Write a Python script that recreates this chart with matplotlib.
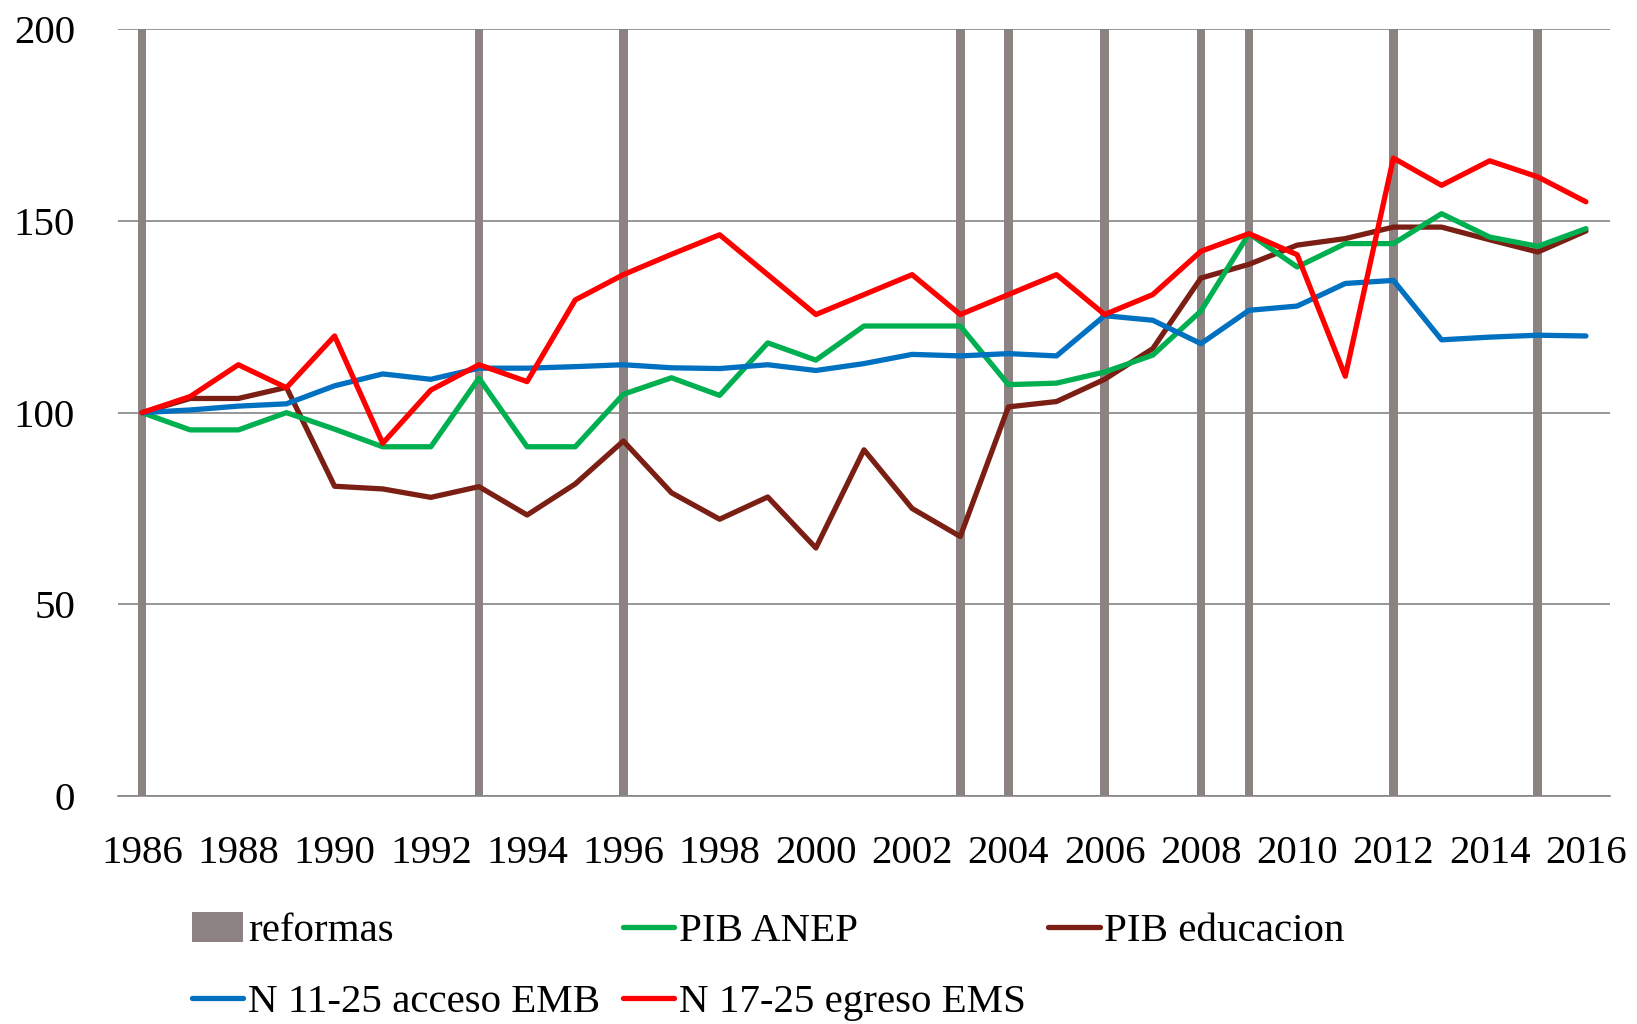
import matplotlib
matplotlib.use("Agg")
import matplotlib.pyplot as plt
from matplotlib.patches import Patch
from matplotlib.lines import Line2D

years = list(range(1986, 2017))
reform_years = [1986, 1993, 1996, 2003, 2004, 2006, 2008, 2009, 2012, 2015]
reform_height = 200

pib_anep = [100, 95.5, 95.5, 100, 95.7, 91.1, 91.1, 109.0, 91.1, 91.1,
            104.8, 109.1, 104.5, 118.2, 113.7, 122.6, 122.6, 122.6, 107.3, 107.7,
            110.6, 115.0, 126.5, 146.7, 138.0, 144.1, 144.1, 151.9, 145.8, 143.4, 148.0]
pib_educ = [100, 103.7, 103.7, 106.6, 80.8, 80.1, 77.9, 80.7, 73.3, 81.4,
            92.6, 79.1, 72.2, 78.0, 64.7, 90.3, 75.0, 67.7, 101.5, 102.9,
            108.7, 116.7, 135.1, 138.7, 143.7, 145.4, 148.4, 148.4, 145.1, 141.9, 147.4]
n_acceso = [100, 100.7, 101.7, 102.3, 107.0, 110.1, 108.7, 111.6, 111.6, 112.0,
            112.5, 111.7, 111.5, 112.5, 111.0, 112.8, 115.2, 114.8, 115.4, 114.8,
            125.3, 124.1, 118.0, 126.7, 127.8, 133.7, 134.5, 119.0, 119.7, 120.2, 120.0]
n_egreso = [100, 104.2, 112.5, 106.5, 120.0, 92.0, 105.9, 112.5, 108.1, 129.4,
            136.0, 141.3, 146.4, 136.0, 125.6, 130.8, 136.0, 125.6, 130.8, 136.0,
            125.6, 130.8, 142.1, 146.7, 141.2, 109.5, 166.4, 159.3, 165.7, 161.5, 155.0]
y_ticks = [0, 50, 100, 150, 200]

c_bar = "#8C8282"
c_green = "#00B050"
c_brown = "#7B1F14"
c_blue = "#0070C0"
c_red = "#FF0000"
c_grid = "#858585"

plt.rcParams['font.family'] = ['Liberation Serif', 'DejaVu Serif']
FS = 29.5

fig = plt.figure(figsize=(16.37, 10.24), dpi=100)
ax = fig.add_axes([118/1637, 1 - 796/1024, (1610 - 118)/1637, (796 - 29.3)/1024])

idx = list(range(len(years)))
bar_vals = [reform_height if y in reform_years else 0 for y in years]
ax.bar(idx, bar_vals, width=0.18, color=c_bar, zorder=2)

lw = 3.8
kw = dict(lw=lw, solid_capstyle='round', solid_joinstyle='round', zorder=3)
ax.plot(idx, pib_educ, color=c_brown, **kw)
ax.plot(idx, pib_anep, color=c_green, **kw)
ax.plot(idx, n_acceso, color=c_blue, **kw)
ax.plot(idx, n_egreso, color=c_red, **kw)

ax.set_xlim(-0.5, len(years) - 0.5)
ax.set_ylim(0, 200)
ax.set_yticks(y_ticks)
ax.set_yticklabels([str(v) for v in y_ticks])
ax.set_xticks(idx[::2])
ax.set_xticklabels([str(y) for y in years[::2]])
ax.tick_params(axis='both', length=0, labelsize=FS)
ax.tick_params(axis='y', pad=31)
ax.tick_params(axis='x', pad=28)
ax.yaxis.grid(True, color=c_grid, lw=1.2, zorder=0)
ax.set_axisbelow(True)
for s in ['left', 'right', 'top']:
    ax.spines[s].set_visible(False)
ax.spines['bottom'].set_color(c_grid)
ax.spines['bottom'].set_linewidth(1.2)

handles = [
    Patch(facecolor=c_bar, edgecolor='none'),
    Line2D([], [], color=c_blue, lw=lw, solid_capstyle='round'),
    Line2D([], [], color=c_green, lw=lw, solid_capstyle='round'),
    Line2D([], [], color=c_red, lw=lw, solid_capstyle='round'),
    Line2D([], [], color=c_brown, lw=lw, solid_capstyle='round'),
]
labels = ["reformas", "N 11-25 acceso EMB", "PIB ANEP", "N 17-25 egreso EMS", "PIB educacion"]
fig.legend(handles, labels, ncol=3, loc='upper left', bbox_to_anchor=(192/1637, 1 - 912/1024),
           frameon=False, fontsize=FS, handlelength=1.25, handletextpad=0.12,
           columnspacing=0.55, labelspacing=0.8, borderpad=0, borderaxespad=0,
           handleheight=0.75)

fig.savefig("out.png", dpi=100)
